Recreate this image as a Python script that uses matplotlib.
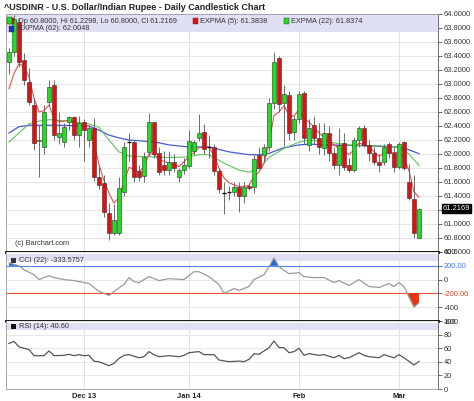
import numpy as np
import pandas as pd
import matplotlib
matplotlib.use("Agg")
import matplotlib.pyplot as plt
from matplotlib.patches import Rectangle

plt.rcParams['font.family'] = ['Liberation Sans', 'DejaVu Sans']

# ----------------------
# Data
# ----------------------
# daily bars, Barchart skips Dec 25 and Jan 1
days = pd.bdate_range("2013-11-11", "2014-03-07")
days = days[~days.isin(pd.to_datetime(["2013-12-25", "2014-01-01"]))]

opens = [63.31, 63.46, 63.88, 63.34, 63.03, 62.70, 62.19, 62.10, 62.74, 62.99,
         62.24, 62.17, 62.46, 62.53, 62.27, 62.46, 62.20, 62.37, 61.67, 61.59,
         61.16, 60.87, 60.87, 61.46, 62.17, 62.17, 61.76, 61.69, 62.03, 62.46,
         62.01, 61.84, 61.77, 61.89, 61.67, 61.77, 61.83, 62.04, 62.23, 62.31,
         62.10, 62.10, 61.76, 61.44, 61.46, 61.46, 61.53, 61.40, 61.54, 61.53,
         61.99, 61.99, 62.10, 62.73, 63.37, 62.73, 62.84, 62.31, 62.50, 62.87,
         62.13, 62.41, 62.23, 62.09, 62.30, 62.01, 61.84, 62.16, 61.84, 61.77,
         62.20, 62.37, 62.13, 62.01, 61.89, 61.89, 62.14, 62.01, 61.81, 62.17,
         61.60, 61.36, 60.80]
highs = [63.52, 63.98, 63.95, 63.45, 63.23, 62.80, 62.41, 62.70, 63.06, 63.06,
         62.60, 62.45, 62.55, 62.55, 62.55, 62.50, 62.40, 62.51, 61.81, 61.70,
         61.30, 61.29, 61.67, 62.17, 62.30, 62.20, 61.85, 62.03, 62.59, 62.46,
         62.10, 62.05, 62.05, 62.00, 61.80, 61.95, 62.35, 62.20, 62.57, 62.43,
         62.27, 62.15, 61.80, 61.60, 61.55, 61.60, 61.60, 61.60, 61.58, 61.98,
         62.10, 62.15, 62.80, 63.46, 63.40, 62.98, 62.90, 62.55, 62.90, 62.90,
         62.50, 62.55, 62.45, 62.45, 62.40, 62.10, 62.37, 62.30, 61.95, 62.25,
         62.40, 62.42, 62.20, 62.10, 62.00, 62.15, 62.17, 62.10, 62.17, 62.18,
         61.86, 61.70, 61.2298]
lows = [63.15, 63.40, 63.25, 62.98, 62.70, 62.06, 61.67, 62.00, 62.68, 62.20,
        62.15, 62.10, 62.35, 62.20, 62.10, 61.90, 62.10, 61.62, 61.50, 61.10,
        60.77, 60.84, 60.85, 61.40, 61.90, 61.60, 61.62, 61.60, 61.97, 61.95,
        61.70, 61.70, 61.70, 61.75, 61.60, 61.72, 61.80, 61.98, 62.18, 62.00,
        61.95, 61.70, 61.45, 61.14, 61.35, 61.40, 61.17, 61.30, 61.48, 61.45,
        61.78, 61.90, 62.05, 62.65, 62.60, 62.11, 62.20, 62.20, 62.45, 62.15,
        62.05, 62.15, 62.00, 61.98, 61.90, 61.78, 61.70, 61.77, 61.75, 61.75,
        62.10, 62.10, 61.90, 61.85, 61.75, 61.85, 61.95, 61.75, 61.78, 61.77,
        61.35, 60.80, 60.80]
closes = [63.46, 63.93, 63.32, 63.06, 62.74, 62.16, 62.20, 62.60, 62.96, 62.27,
          62.30, 62.39, 62.53, 62.27, 62.44, 62.34, 62.37, 61.67, 61.56, 61.17,
          60.87, 61.06, 61.51, 62.10, 62.17, 61.67, 61.67, 61.96, 62.46, 62.00,
          61.74, 61.77, 61.89, 61.80, 61.77, 61.84, 62.19, 62.17, 62.30, 62.07,
          62.10, 61.76, 61.50, 61.44, 61.46, 61.53, 61.40, 61.53, 61.51, 61.93,
          61.80, 62.10, 62.73, 63.31, 62.71, 62.86, 62.30, 62.50, 62.86, 62.23,
          62.37, 62.23, 62.10, 62.30, 62.01, 61.84, 62.13, 61.81, 61.77, 62.20,
          62.37, 62.13, 62.01, 61.89, 61.84, 62.10, 62.01, 61.81, 62.14, 61.80,
          61.37, 60.87, 61.2169]

# moving averages, sampled at bar index
ema5_idx = [0, 1, 2, 3, 4, 5, 6, 7, 8, 9, 10, 12, 14, 15, 16, 17, 18, 19, 20, 21,
            22, 23, 24, 25, 26, 27, 28, 29, 30, 32, 34, 36, 38, 40, 41, 42, 43, 44,
            46, 48, 49, 50, 51, 52, 53, 54, 55, 56, 57, 58, 59, 60, 62, 64, 66, 68,
            69, 70, 72, 74, 75, 76, 78, 79, 80, 81, 82]
ema5_val = [62.93, 63.15, 63.29, 63.25, 63.10, 62.80, 62.60, 62.62, 62.70, 62.51,
            62.46, 62.48, 62.42, 62.41, 62.40, 62.15, 61.85, 61.62, 61.44, 61.30,
            61.38, 61.60, 61.81, 61.78, 61.74, 61.82, 62.00, 62.00, 61.92, 61.87,
            61.82, 61.96, 62.09, 62.10, 61.98, 61.80, 61.66, 61.59, 61.53, 61.55,
            61.68, 61.74, 61.86, 62.15, 62.55, 62.60, 62.69, 62.56, 62.54, 62.64,
            62.50, 62.46, 62.30, 62.18, 62.08, 61.99, 62.06, 62.16, 62.10, 61.97,
            62.01, 62.02, 62.02, 61.95, 61.76, 61.46, 61.3838]
ema22_idx = [0, 2, 4, 6, 8, 12, 16, 18, 20, 22, 24, 28, 32, 36, 38, 40, 43, 46,
             48, 50, 52, 55, 58, 60, 64, 68, 72, 76, 78, 80, 82]
ema22_val = [62.17, 62.30, 62.43, 62.47, 62.49, 62.47, 62.43, 62.38, 62.20, 62.03,
             61.97, 61.96, 61.95, 61.96, 61.99, 61.99, 61.87, 61.77, 61.74, 61.80,
             61.95, 62.08, 62.17, 62.20, 62.17, 62.13, 62.12, 62.11, 62.09, 62.00,
             61.8374]
ema62_idx = [0, 2, 4, 10, 16, 18, 20, 22, 24, 26, 30, 32, 36, 40, 44, 48, 50, 52,
             55, 58, 60, 64, 70, 74, 78, 80, 82]
ema62_val = [62.30, 62.39, 62.41, 62.41, 62.40, 62.34, 62.27, 62.23, 62.20, 62.19,
             62.16, 62.13, 62.10, 62.10, 62.03, 61.99, 61.99, 62.01, 62.09, 62.13,
             62.14, 62.13, 62.12, 62.11, 62.10, 62.06, 62.0048]

cci_idx = [0, 2, 3, 5, 6, 8, 9, 11, 13, 15, 16, 17, 18, 20, 21, 23, 24, 25, 26, 28,
           30, 32, 35, 37, 38, 40, 42, 43, 45, 46, 48, 49, 51, 52, 53, 54, 56, 58,
           59, 61, 63, 65, 66, 68, 70, 72, 74, 76, 77, 78, 79, 81, 82]
cci_val = [243, 200, 143, 71, 0, 57, 29, 0, -14, -43, -57, -114, -171, -229, -171,
           -71, 29, -29, -43, 43, -14, 14, 0, 114, 114, 43, -71, -200, -129, -157,
           -100, 0, 71, 186, 314, 186, 86, 100, 43, 29, 29, -43, -14, -86, 0, -100,
           -114, -57, -100, -43, -100, -400, -333.58]

rsi_idx = [0, 1, 2, 4, 5, 7, 8, 9, 11, 12, 13, 14, 15, 16, 17, 18, 20, 21, 22, 23,
           24, 26, 27, 28, 29, 30, 32, 34, 35, 36, 38, 39, 41, 42, 44, 46, 47, 48,
           49, 50, 52, 53, 54, 55, 56, 57, 58, 59, 60, 62, 63, 65, 66, 67, 68, 70,
           71, 72, 74, 75, 77, 78, 79, 81, 82]
rsi_val = [67, 70, 62, 58, 49, 49, 56, 49, 49.5, 51, 49, 50.5, 49, 49.5, 41, 40,
           34.3, 37.7, 45, 49.5, 50.5, 46, 47.5, 55, 50.5, 47.5, 49, 47.5, 49.5,
           53.4, 55, 50.5, 50.5, 42.6, 40.2, 41, 40.2, 43.6, 52, 51, 60.8, 70.6,
           60.8, 60.8, 53.4, 55, 59.8, 49.5, 52, 49.5, 50.5, 46, 49.5, 44.6, 46,
           53.4, 49.5, 47.5, 46, 50.5, 46, 50.5, 46, 35.3, 40.6]

price_ticks = np.arange(60.6, 64.01, 0.2)
cci_ticks = [-600, -400, -200, 0, 200, 400]
cci_labels = ['-600', '-400', '-200.00', '0', '200.00', '400']
rsi_ticks = [0, 20, 40, 60, 80, 100]

title = "^USDINR - U.S. Dollar/Indian Rupee - Daily Candlestick Chart"

# ----------------------
# Layout
# ----------------------
W, H = 474, 401
fig = plt.figure(figsize=(W / 100, H / 100), dpi=100)


def box(top, bottom, left=6, right=438):
    return [left / W, 1 - bottom / H, (right - left) / W, (bottom - top) / H]


ax = fig.add_axes(box(14, 252))
ax_cci = fig.add_axes(box(252, 321), sharex=ax)
ax_rsi = fig.add_axes(box(321, 389), sharex=ax)

fig.text(4 / W, 1 - 7 / H, title, fontsize=6.5, fontweight='bold',
         va='center', color='#222222')

x = np.arange(len(days))
grid_c = '#e3e3e3'
band_c = '#e0e0f5'
tick_fs = 5.4

# month ticks = first bar of each month
months = pd.Series(days.to_period('M'))
first_bars = [int(i) for i in months.drop_duplicates().index if i > 0]
month_labels = ['Dec 13', 'Jan 14', 'Feb', 'Mar']

for a in (ax, ax_cci, ax_rsi):
    a.set_xlim(-0.6, 85.8)
    a.yaxis.tick_right()
    a.tick_params(axis='y', length=3, width=0.5, pad=1, labelsize=tick_fs,
                  colors='#333333')
    a.tick_params(axis='x', length=0, labelbottom=False)
    for xv in first_bars:
        a.axvline(xv, color=grid_c, lw=0.7, zorder=0)
    for s in ('top', 'left', 'bottom'):
        a.spines[s].set_color('#999999')
        a.spines[s].set_linewidth(0.6)
    a.spines['right'].set_color('#555555')
    a.spines['right'].set_linewidth(0.6)

# ----------------------
# Price panel
# ----------------------
ax.set_ylim(60.6, 64.0)
ax.set_yticks(price_ticks)
# the last-price box hides the 61.2000 label
ax.set_yticklabels(["" if abs(v - 61.2) < 1e-6 else f"{v:.4f}" for v in price_ticks])
for v in price_ticks:
    ax.axhline(v, color=grid_c, lw=0.6, zorder=0)
ax.axhspan(63.74, 64.0, color=band_c, zorder=0.5, lw=0)

for i in range(len(x)):
    o, h, l, c = opens[i], highs[i], lows[i], closes[i]
    ax.vlines(x[i], l, h, color='#555555', lw=0.6, zorder=3)
    if abs(c - o) < 0.005:
        ax.hlines(c, x[i] - 0.45, x[i] + 0.45, color='#111111', lw=1.0, zorder=4)
    else:
        col = '#1ee01e' if c > o else '#e01010'
        ax.bar(x[i], abs(c - o), bottom=min(o, c), width=0.85, color=col,
               edgecolor='#303030', lw=0.4, zorder=4)

ax.plot(ema62_idx, ema62_val, color='#4a58d4', lw=0.9, zorder=2)
ax.plot(ema22_idx, ema22_val, color='#5cc45c', lw=0.8, zorder=2)
ax.plot(ema5_idx, ema5_val, color='#e85050', lw=0.8, zorder=2)

ax.spines['bottom'].set_color('black')
ax.spines['bottom'].set_linewidth(2)

hdr_fs = 5.3
r1, r2 = 0.970, 0.937
ax.add_patch(Rectangle((0.007, r1 - 0.014), 0.012, 0.026, transform=ax.transAxes,
                       fc='#e01010', ec='#303030', lw=0.3, zorder=6))
ax.add_patch(Rectangle((0.002, r1 - 0.010), 0.012, 0.026, transform=ax.transAxes,
                       fc='#1ee01e', ec='#303030', lw=0.3, zorder=6))
ax.text(0.028, r1, "Op 60.8000, Hi 61.2298, Lo 60.8000, Cl 61.2169",
        transform=ax.transAxes, fontsize=hdr_fs, va='center', color='#333333', zorder=7)
ax.add_patch(Rectangle((0.433, r1 - 0.013), 0.011, 0.026, transform=ax.transAxes,
                       fc='#e01010', ec='#303030', lw=0.3, zorder=6))
ax.text(0.449, r1, "EXPMA (5): 61.3838", transform=ax.transAxes, fontsize=hdr_fs,
        va='center', color='#333333', zorder=7)
ax.add_patch(Rectangle((0.643, r1 - 0.013), 0.011, 0.026, transform=ax.transAxes,
                       fc='#1ee01e', ec='#303030', lw=0.3, zorder=6))
ax.text(0.659, r1, "EXPMA (22): 61.8374", transform=ax.transAxes, fontsize=hdr_fs,
        va='center', color='#333333', zorder=7)
ax.add_patch(Rectangle((0.007, r2 - 0.013), 0.011, 0.026, transform=ax.transAxes,
                       fc='#2030c0', ec='#303030', lw=0.3, zorder=6))
ax.text(0.028, r2, "EXPMA (62): 62.0048", transform=ax.transAxes, fontsize=hdr_fs,
        va='center', color='#333333', zorder=7)

ax.text(0.021, 0.037, "(c) Barchart.com", transform=ax.transAxes, fontsize=5.3,
        color='#333333', va='center')

ax.annotate(f"{closes[-1]:.4f}", xy=(1, closes[-1]),
            xycoords=('axes fraction', 'data'), xytext=(3.5, 0),
            textcoords='offset points', va='center', ha='left', fontsize=tick_fs,
            color='white', bbox=dict(boxstyle='square,pad=0.12', fc='black', ec='black'),
            annotation_clip=False, zorder=10)

# ----------------------
# CCI panel
# ----------------------
ax_cci.set_ylim(-600, 400)
ax_cci.set_yticks(cci_ticks)
ax_cci.set_yticklabels(cci_labels)
for v in cci_ticks:
    ax_cci.axhline(v, color=grid_c, lw=0.6, zorder=0)
ax_cci.axhspan(264, 366, color=band_c, zorder=0.5, lw=0)
ax_cci.axhline(200, color='#5588ee', lw=0.8, zorder=2)
ax_cci.axhline(-200, color='#ee5533', lw=0.8, zorder=2)
cci_arr = np.array(cci_val, dtype=float)
ax_cci.fill_between(cci_idx, cci_arr, 200, where=cci_arr >= 200, interpolate=True,
                    color='#2266dd', lw=0, zorder=3)
ax_cci.fill_between(cci_idx, cci_arr, -200, where=cci_arr <= -200, interpolate=True,
                    color='#ee3311', lw=0, zorder=3)
ax_cci.plot(cci_idx, cci_val, color='#999999', lw=0.9, zorder=4)
for lab in ax_cci.get_yticklabels():
    if lab.get_text() == '200.00':
        lab.set_color('#3377ee')
    elif lab.get_text() == '-200.00':
        lab.set_color('#dd4422')
ax_cci.add_patch(Rectangle((0.012, 0.845), 0.011, 0.07, transform=ax_cci.transAxes,
                           fc='#333333', lw=0, zorder=6))
ax_cci.text(0.03, 0.88, "CCI (22): -333.5757", transform=ax_cci.transAxes,
            fontsize=hdr_fs, va='center', color='#333333', zorder=7)
ax_cci.spines['bottom'].set_color('black')
ax_cci.spines['bottom'].set_linewidth(2)
ax_cci.spines['top'].set_visible(False)

# ----------------------
# RSI panel
# ----------------------
ax_rsi.set_ylim(0, 100)
ax_rsi.set_yticks(rsi_ticks)
for v in rsi_ticks:
    ax_rsi.axhline(v, color=grid_c, lw=0.6, zorder=0)
ax_rsi.axhspan(87, 97, color=band_c, zorder=0.5, lw=0)
ax_rsi.plot(rsi_idx, rsi_val, color='#555555', lw=0.9, zorder=4)
ax_rsi.add_patch(Rectangle((0.012, 0.885), 0.011, 0.07, transform=ax_rsi.transAxes,
                           fc='#111111', lw=0, zorder=6))
ax_rsi.text(0.03, 0.92, "RSI (14): 40.60", transform=ax_rsi.transAxes,
            fontsize=hdr_fs, va='center', color='#333333', zorder=7)
ax_rsi.spines['top'].set_visible(False)

ax_rsi.set_xticks(first_bars)
ax_rsi.set_xticklabels(month_labels, fontsize=5.4, fontweight='bold')
ax_rsi.tick_params(axis='x', length=0, pad=3, labelbottom=True, colors='#222222')

fig.savefig("out.png", dpi=100)
